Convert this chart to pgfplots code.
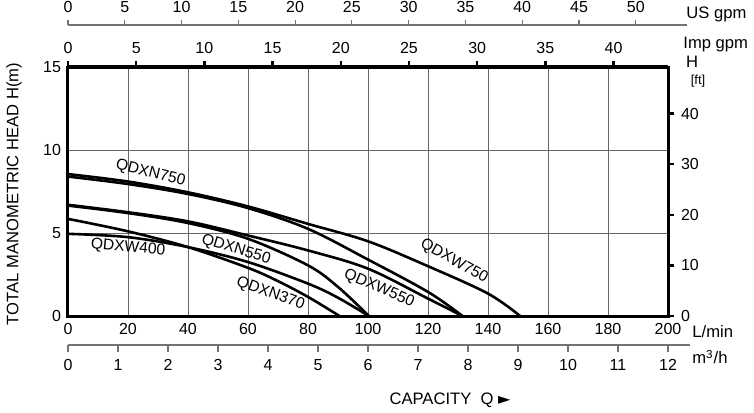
\documentclass[border=0pt]{standalone}
\usepackage{fontspec}
\setmainfont{Liberation Sans}
\newfontfamily\symfont{DejaVu Sans}
\usepackage{pgfplots}
\pgfplotsset{compat=1.18}

\pgfplotsset{
  every axis/.append style={
    scale only axis,
    font=\fontsize{8}{9}\selectfont,
    /pgf/number format/assume math mode=true,
  },
}
\tikzset{
  pump/.style={black, line width=1.3pt, smooth, tension=0.55, mark=none},
  lab/.style={font=\fontsize{7.8}{8}\selectfont, inner sep=0pt},
}

\begin{document}
\begin{tikzpicture}
\path[use as bounding box] (-34pt,-48pt) rectangle (343pt,158pt);

% US gpm scale (top)
\begin{axis}[at={(0pt,144.5pt)}, width=309.5pt, height=1pt,
  xmin=0, xmax=54.51, ymin=0, ymax=1,
  axis x line*=top, axis y line=none,
  axis line style={black!55, line width=0.6pt, -},
  xtick={0,5,...,50}, ytick=\empty,
  tick align=outside, major tick length=2.5pt,
  tick style={black!55, line width=0.6pt}]
\end{axis}

% m3/h scale (bottom)
\begin{axis}[at={(0pt,-14.5pt)}, width=311pt, height=1pt,
  xmin=0, xmax=12.44, ymin=0, ymax=1,
  axis x line*=bottom, axis y line=none,
  axis line style={black!55, line width=0.6pt, -},
  xtick={0,1,...,12}, ytick=\empty,
  tick align=outside, major tick length=3.5pt,
  tick style={black!55, line width=0.6pt}]
\end{axis}

% Imp gpm ticks on top of the box
\begin{axis}[at={(0,0)}, width=300pt, height=124.5pt,
  xmin=0, xmax=43.99, ymin=0, ymax=1,
  axis x line*=top, axis y line=none,
  axis line style={line width=1.5pt, -},
  xtick={0,5,...,40}, ytick=\empty,
  tick align=outside, major tick length=3pt,
  tick style={black, line width=1.2pt}]
\end{axis}

% H [ft] scale (right)
\begin{axis}[at={(0,0)}, width=300pt, height=124.5pt,
  xmin=0, xmax=1, ymin=0, ymax=49.21,
  axis y line*=right, axis x line=none,
  axis line style={line width=1.5pt, -},
  ytick={0,10,...,40}, xtick=\empty,
  tick align=outside, major tick length=3pt,
  tick style={black, line width=1.2pt}]
\end{axis}

% main chart: H (m) against Q (L/min)
\begin{axis}[at={(0,0)}, width=300pt, height=124.5pt,
  xmin=0, xmax=200, ymin=0, ymax=15,
  xtick={0,20,...,200}, ytick={0,5,10,15},
  grid=major, grid style={black!60, line width=0.4pt},
  major tick length=0pt,
  axis line style={line width=1.5pt},
  clip=false]

% QDXW750
\addplot[pump] coordinates {(0,8.55) (20,8.1) (40,7.45) (60,6.6) (80,5.55) (100,4.5) (120,3.0) (140,1.35) (150.7,0)};
% QDXN750
\addplot[pump] coordinates {(0,8.4) (20,7.95) (40,7.35) (60,6.5) (80,5.25) (100,3.4) (120,1.45) (131.5,0)};
% QDXW550
\addplot[pump] coordinates {(0,6.7) (20,6.25) (40,5.7) (60,4.85) (80,3.95) (100,2.85) (120,1.05) (131.5,0)};
% QDXN550
\addplot[pump] coordinates {(0,6.65) (20,6.2) (40,5.6) (60,4.65) (80,3.05) (90,1.75) (100.3,0)};
% QDXN370
\addplot[pump] coordinates {(0,5.85) (20,5.1) (40,4.15) (60,2.9) (70,2.1) (80,1.15) (90.5,0)};
% QDXW400
\addplot[pump] coordinates {(0,4.95) (20,4.75) (40,4.15) (60,3.25) (80,1.95) (90,1.1) (100.3,0)};

\node[lab, rotate=-14] at (axis cs:27.5,8.6) {QDXN750};
\node[lab, rotate=-5] at (axis cs:20,4.1) {QDXW400};
\node[lab, rotate=-17] at (axis cs:56,4.0) {QDXN550};
\node[lab, rotate=-20] at (axis cs:67.5,1.35) {QDXN370};
\node[lab, rotate=-23] at (axis cs:103.7,1.65) {QDXW550};
\node[lab, rotate=-29] at (axis cs:128.7,3.3) {QDXW750};
\end{axis}

\begin{scope}[font=\fontsize{8.3}{9}\selectfont]
\node[rotate=90] at (-27pt,61pt) {TOTAL MANOMETRIC HEAD H(m)};
\node at (191pt,-42pt) {CAPACITY\ \ Q {\symfont\fontsize{8}{8}\selectfont ►}};
\node[anchor=west, inner sep=0pt] at (312pt,-8pt) {L/min};
\node[anchor=west, inner sep=0pt] at (312pt,-20.5pt) {m\textsuperscript{3}/h};
\node[anchor=west, inner sep=0pt] at (309pt,151pt) {US gpm};
\node[anchor=west, inner sep=0pt] at (307.5pt,135.5pt) {Imp gpm};
\node at (312pt,127pt) {H};
\node[font=\fontsize{6.5}{7}\selectfont] at (315pt,117.5pt) {[ft]};
\end{scope}
\end{tikzpicture}
\end{document}
